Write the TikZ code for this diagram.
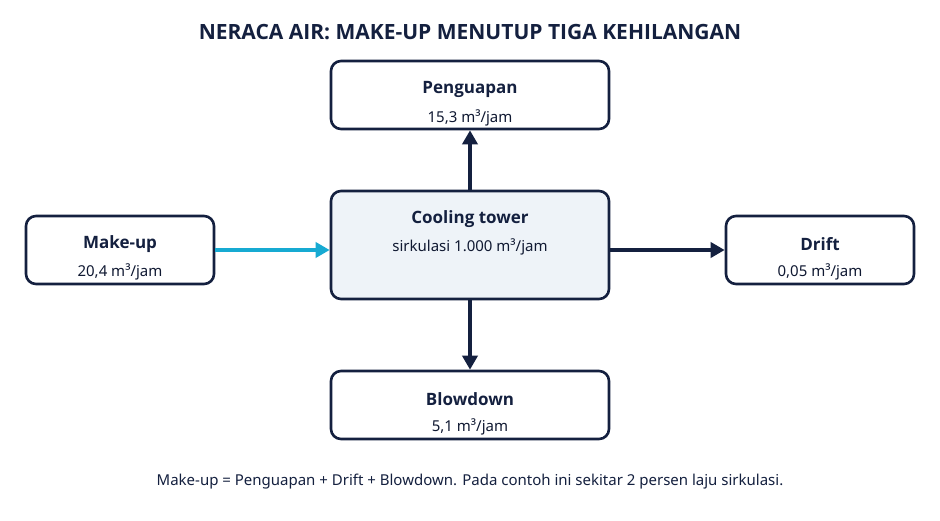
\documentclass[tikz,border=0pt]{standalone}
\usepackage{fontspec}
\setmainfont{Noto Sans}
\newfontfamily\boldfam{Open Sans}
\usetikzlibrary{arrows.meta}
\definecolor{navy}{HTML}{14203F}
\definecolor{cyanflow}{HTML}{17AAD2}
\definecolor{towerfill}{HTML}{EEF3F8}
\begin{document}
\begin{tikzpicture}[x=1pt,y=-1pt,
  box/.style={draw=navy,line width=2.6pt,rounded corners=10pt,fill=white,inner sep=0pt},
  boxtitle/.style={font=\fontsize{17}{20}\boldfam\bfseries\selectfont,text=navy,inner sep=0pt},
  boxval/.style={font=\fontsize{15}{18}\selectfont,text=navy!80!black,inner sep=0pt},
  flow/.style={draw=navy,line width=4pt,-{Triangle[length=14pt,width=15pt]}},
  inflow/.style={draw=cyanflow,line width=4pt,-{Triangle[length=14pt,width=15pt]}}
]
\useasboundingbox[fill=white] (0,0) rectangle (940,520);
\node[font=\fontsize{21}{25}\boldfam\bfseries\selectfont,text=navy] (title) at (470,32) {NERACA AIR: MAKE-UP MENUTUP TIGA KEHILANGAN};

\node[box,minimum width=278pt,minimum height=68pt] (pen) at (470,95) {};
\node[boxtitle] (pent) at (470,89) {Penguapan};
\node[boxval] (penv) at (470,118) {15,3 m³/jam};

\node[box,fill=towerfill,minimum width=278pt,minimum height=108pt] (ct) at (470,245) {};
\node[boxtitle] (ctt) at (470,219) {Cooling tower};
\node[boxval] (ctv) at (470,247) {sirkulasi 1.000 m³/jam};

\node[box,minimum width=188pt,minimum height=68pt] (mk) at (120,250) {};
\node[boxtitle] (mkt) at (120,244) {Make-up};
\node[boxval] (mkv) at (120,272) {20,4 m³/jam};

\node[box,minimum width=188pt,minimum height=68pt] (dr) at (820,250) {};
\node[boxtitle] (drt) at (820,244) {Drift};
\node[boxval] (drv) at (820,272) {0,05 m³/jam};

\node[box,minimum width=278pt,minimum height=68pt] (bd) at (470,405) {};
\node[boxtitle] (bdt) at (470,399) {Blowdown};
\node[boxval] (bdv) at (470,427) {5,1 m³/jam};

\draw[inflow] (mk.east) -- (mk.east -| ct.west);
\draw[flow] (ct.east |- dr.west) -- (dr.west);
\draw[flow] (ct.north) -- (pen.south);
\draw[flow] (ct.south) -- (bd.north);

\node[font=\fontsize{15}{18}\selectfont,text=navy] (foot) at (470,482) {Make-up = Penguapan + Drift + Blowdown. Pada contoh ini sekitar 2 persen laju sirkulasi.};
\end{tikzpicture}
\end{document}
